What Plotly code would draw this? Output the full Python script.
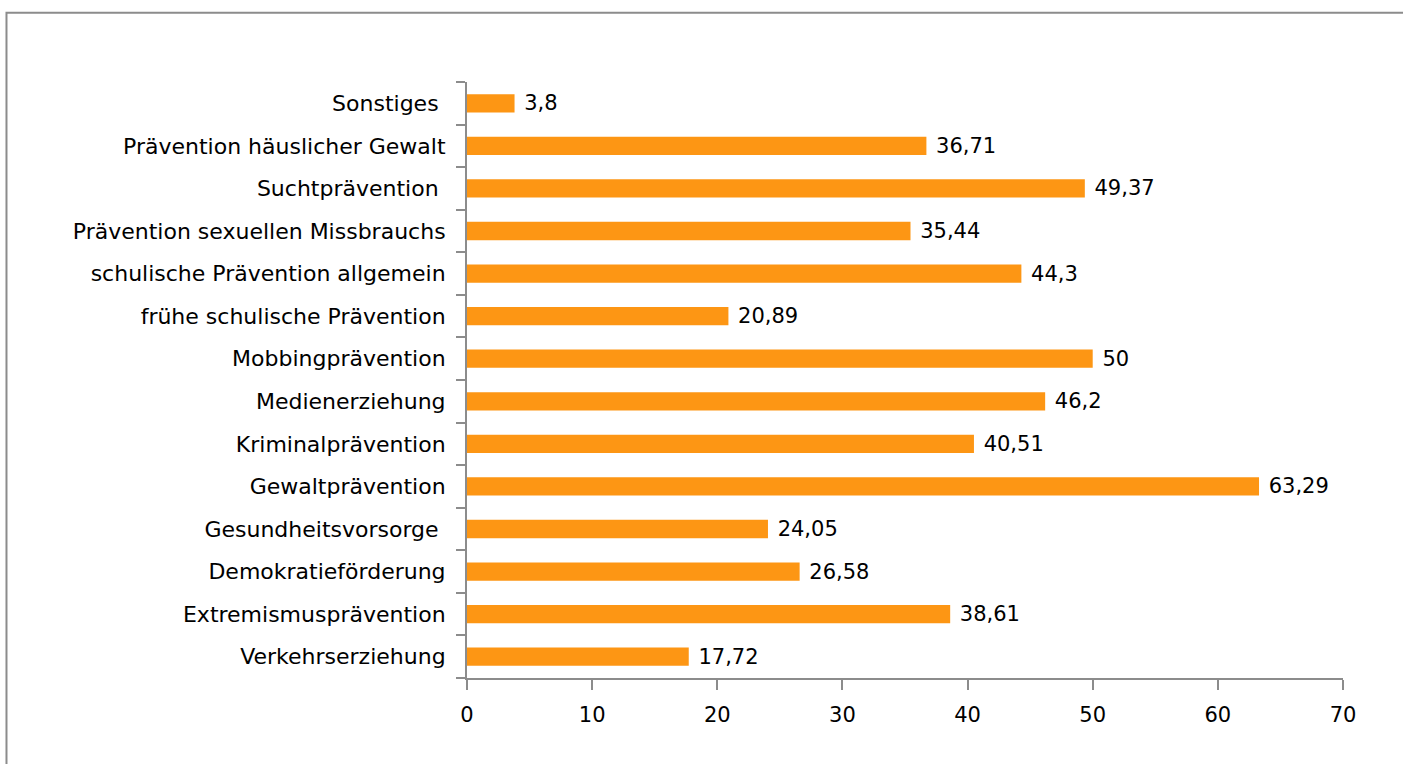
import plotly.graph_objects as go

categories = [
    "Verkehrserziehung", "Extremismusprävention", "Demokratieförderung",
    "Gesundheitsvorsorge ", "Gewaltprävention", "Kriminalprävention",
    "Medienerziehung", "Mobbingprävention", "frühe schulische Prävention",
    "schulische Prävention allgemein", "Prävention sexuellen Missbrauchs",
    "Suchtprävention ", "Prävention häuslicher Gewalt", "Sonstiges ",
]
values = [17.72, 38.61, 26.58, 24.05, 63.29, 40.51, 46.2, 50, 20.89,
          44.3, 35.44, 49.37, 36.71, 3.8]
value_labels = [("%g" % v).replace(".", ",") for v in values]
x_ticks = [0, 10, 20, 30, 40, 50, 60, 70]

FONT = "DejaVu Sans"
fig = go.Figure(go.Bar(
    y=categories, x=values, orientation="h",
    marker=dict(color="#FD9614", line=dict(width=0)),
    width=0.43,
    text=[" " + t for t in value_labels], textposition="outside",
    textfont=dict(family=FONT, size=21, color="#000000"),
    constraintext="none",
    cliponaxis=False,
))

fig.update_layout(
    width=1403, height=764,
    margin=dict(l=467, r=60, t=82, b=86),
    paper_bgcolor="white", plot_bgcolor="white",
    font=dict(family=FONT, size=21, color="#000000"),
    showlegend=False,
    xaxis=dict(range=[0, 70], tickvals=x_ticks, ticks="outside", ticklen=10,
               tickwidth=2, tickcolor="#8C8C8C", showline=True, linewidth=2,
               linecolor="#8C8C8C", showgrid=False, zeroline=False,
               ticklabelstandoff=7, tickfont=dict(size=21)),
    yaxis=dict(categoryorder="array", categoryarray=categories,
               ticks="outside", ticklen=9, tickwidth=2, tickcolor="#8C8C8C",
               tickson="boundaries", showline=True, linewidth=2,
               linecolor="#8C8C8C", showgrid=False, zeroline=False,
               ticklabelstandoff=15, tickfont=dict(size=22)),
    shapes=[dict(type="rect", xref="paper", yref="paper",
                 x0=-0.5257, x1=1.2, y0=-0.3, y1=1.1162,
                 line=dict(color="#8C8C8C", width=2), layer="below")],
)

fig.write_html("out.html", config={"displayModeBar": False},
               post_script="document.body.style.margin='0';document.body.style.overflow='hidden';")
